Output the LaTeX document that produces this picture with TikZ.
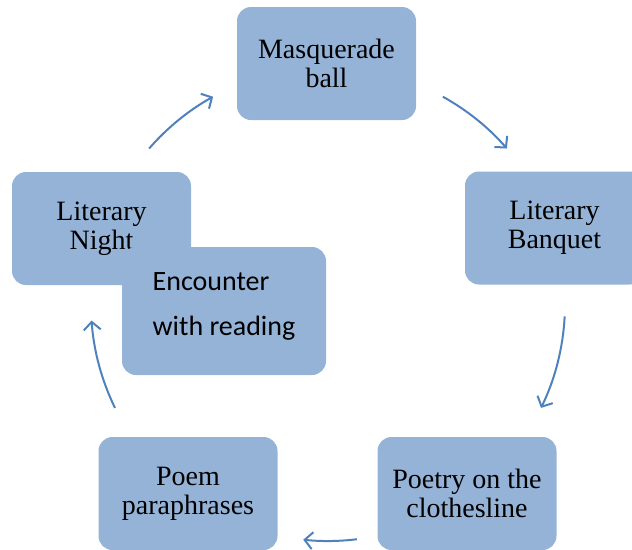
\documentclass[tikz,border=0pt]{standalone}
\usepackage{fontspec}
\setmainfont{Liberation Serif}
\newfontfamily\encfont{Carlito}
\usepackage{xcolor}
\usetikzlibrary{arrows.meta}
\definecolor{boxblue}{HTML}{95B3D7}
\definecolor{ringblue}{HTML}{4F81BD}

\begin{document}
\begin{tikzpicture}[x=1pt, y=-1pt,
    stage/.style={fill=boxblue, rounded corners=14pt, align=center, inner sep=0pt,
      minimum width=179pt, minimum height=113pt, font=\fontsize{28}{29}\selectfont},
    cyc/.style={draw=ringblue, line width=2pt, -{Straight Barb[length=8pt, width=17pt]}}]
  \useasboundingbox (0,0) rectangle (632,549);
  \node[stage] (mask) at (326.5,63.5) {Masquerade\\ball};
  \node[stage] (banquet) at (554.5,228) {Literary\\Banquet};
  \node[stage] (clothes) at (467,493.5) {Poetry on the\\clothesline};
  \node[stage] (poem) at (188,493.5) {Poem\\paraphrases};
  \node[stage] (night) at (101.5,228.5) {Literary\\Night};
  \node[stage, align=left, minimum width=204pt, minimum height=128pt,
        font=\encfont\fontsize{28}{45}\selectfont] (meet) at (224,311)
        {Encounter\\with reading\rule[-14pt]{0pt}{0pt}};
  % arrows round the ring
  \coordinate (ring) at (328,304);
  \foreach \s/\e in {-61/-41, 3/26, 83/96, 154/176, 221/241}
    \draw[cyc] ([shift={(\s:237)}]ring) arc[start angle=\s, end angle=\e, radius=237];
\end{tikzpicture}
\end{document}
